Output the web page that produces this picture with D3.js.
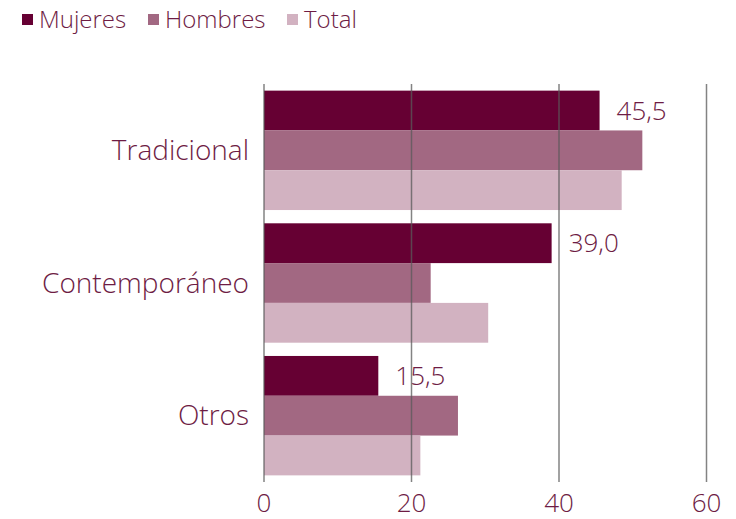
<!DOCTYPE html>
<html>
<head>
<meta charset="utf-8">
<script src="https://cdn.jsdelivr.net/npm/d3@7"></script>
<style>
  body { margin: 0; background: #fff; }
  text { font-family: "Open Sans", Lato, sans-serif; font-weight: 300; fill: #6e1c44; }
</style>
</head>
<body>
<div id="chart"></div>
<script>
// Chart data
const categories = ["Tradicional", "Contemporáneo", "Otros"];
const seriesNames = ["Mujeres", "Hombres", "Total"];
const mujeres = [45.5, 39.0, 15.5];
const hombres = [51.3, 22.6, 26.3];
const total = [48.5, 30.4, 21.2];
const labels = ["45,5", "39,0", "15,5"];
const xTicks = [0, 20, 40, 60];

const colors = ["#660033", "#a26882", "#d2b2c1"];

const width = 736;
const height = 519;

const svg = d3.select("#chart")
  .append("svg")
  .attr("width", width)
  .attr("height", height);

const x = d3.scaleLinear().domain([0, 60]).range([264, 706.5]);

const y = d3.scaleBand()
  .domain(categories)
  .range([84, 482])
  .paddingInner(0.1)
  .paddingOuter(0.05);

const ySub = d3.scaleBand()
  .domain(seriesNames)
  .range([0, y.bandwidth()]);

const rows = categories.map((c, i) => ({
  cat: c,
  values: [mujeres[i], hombres[i], total[i]],
  label: labels[i]
}));

// bars
const groups = svg.selectAll("g.grp")
  .data(rows)
  .enter()
  .append("g")
  .attr("class", "grp")
  .attr("transform", d => `translate(0,${y(d.cat)})`);

groups.selectAll("rect")
  .data(d => d.values.map((v, j) => ({ v, s: seriesNames[j], j })))
  .enter()
  .append("rect")
  .attr("x", x(0))
  .attr("y", d => ySub(d.s))
  .attr("width", d => x(d.v) - x(0))
  .attr("height", ySub.bandwidth())
  .attr("fill", d => colors[d.j]);

// gridlines drawn on top of the bars
svg.selectAll("line.grid")
  .data(xTicks)
  .enter()
  .append("line")
  .attr("class", "grid")
  .attr("x1", d => x(d))
  .attr("x2", d => x(d))
  .attr("y1", 84)
  .attr("y2", 482)
  .attr("stroke", "#5a5a5a")
  .attr("stroke-opacity", 0.75)
  .attr("stroke-width", 1.5);

// value labels for Mujeres
groups.append("text")
  .attr("x", d => x(d.values[0]) + 17)
  .attr("y", ySub("Mujeres") + ySub.bandwidth() / 2)
  .attr("dy", "0.35em")
  .attr("font-size", "26px")
  .text(d => d.label);

// category labels
svg.selectAll("text.cat")
  .data(categories)
  .enter()
  .append("text")
  .attr("class", "cat")
  .attr("x", 249)
  .attr("y", d => y(d) + y.bandwidth() / 2)
  .attr("dy", "0.35em")
  .attr("text-anchor", "end")
  .attr("font-size", "28px")
  .text(d => d);

// x tick labels
svg.selectAll("text.tick")
  .data(xTicks)
  .enter()
  .append("text")
  .attr("class", "tick")
  .attr("x", d => x(d))
  .attr("y", 512)
  .attr("text-anchor", "middle")
  .attr("font-size", "26px")
  .text(d => d);

// legend
const legendX = [22, 148, 287];
const legend = svg.selectAll("g.leg")
  .data(seriesNames)
  .enter()
  .append("g")
  .attr("class", "leg")
  .attr("transform", (d, i) => `translate(${legendX[i]},0)`);

legend.append("rect")
  .attr("x", 0)
  .attr("y", 14)
  .attr("width", 11)
  .attr("height", 11)
  .attr("fill", (d, i) => colors[i]);

legend.append("text")
  .attr("x", 17)
  .attr("y", 28)
  .attr("font-size", "24px")
  .text(d => d);
</script>
</body>
</html>
